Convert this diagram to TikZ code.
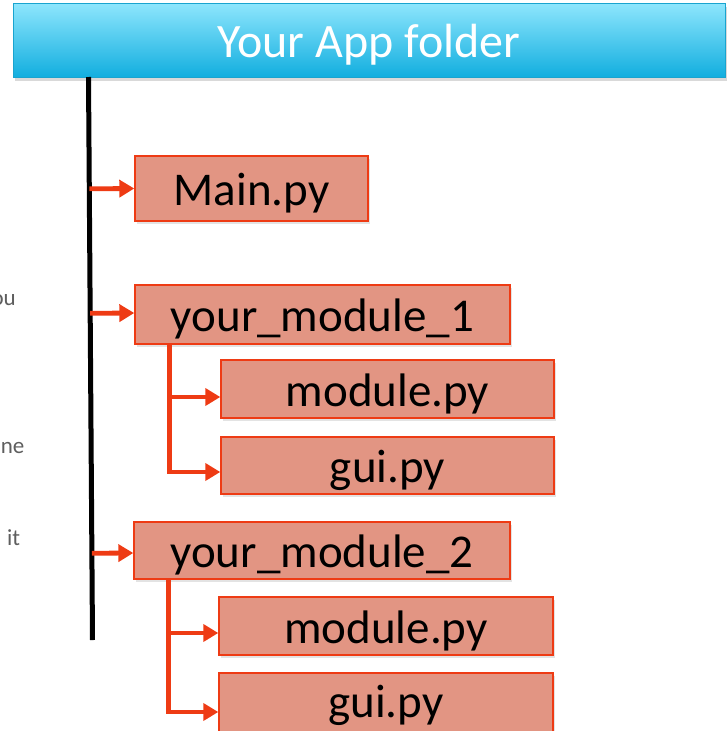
\documentclass[tikz,border=0pt]{standalone}
\usepackage{fontspec}
\setmainfont{Carlito}
\usetikzlibrary{arrows.meta,calc,shadows}
\definecolor{boxfill}{HTML}{E29583}
\definecolor{boxline}{HTML}{EE3B14}
\definecolor{headtop}{HTML}{8EE6FD}
\definecolor{headbot}{HTML}{12AEDF}
\definecolor{headline}{HTML}{19A4CF}
\definecolor{sidegray}{HTML}{5E5E5E}
\begin{document}
\begin{tikzpicture}[x=1pt,y=-1pt,
  filebox/.style={draw=boxline, line width=1.4pt, fill=boxfill, inner sep=0pt,
    font=\fontsize{47}{50}\selectfont, text height=36pt, text depth=2pt,
    drop shadow={opacity=0.22, shadow xshift=2pt, shadow yshift=-3pt}},
  header/.style={draw=headline, line width=1pt, top color=headtop, bottom color=headbot,
    inner sep=0pt, text=white, font=\fontsize{48}{50}\selectfont,
    text height=37pt, text depth=2pt,
    drop shadow={opacity=0.3, shadow xshift=2pt, shadow yshift=-4pt}},
  arr/.style={draw=boxline, line width=4.8pt, -{Triangle[length=15pt,width=17pt]}},
  sideline/.style={draw=boxline, line width=4.8pt},
  sidetext/.style={text=sidegray, font=\fontsize{23}{26}\selectfont, inner sep=0pt}
]
\useasboundingbox (0,0) rectangle (727,731);
\clip (0,0) rectangle (727,731);

% header
\node[header, minimum width=712pt, minimum height=74pt] (head) at (369,40) {Your App folder};

% spine
\coordinate (st) at (88.5,77);
\coordinate (sb) at (92.5,640);
\draw[line width=5pt, black] (st) -- (sb);

% boxes
\node[filebox, minimum width=233pt, minimum height=65pt] (main) at (251.5,188.5) {Main.py};
\node[filebox, minimum width=375pt, minimum height=59pt] (m1) at (322.5,314.5) {your\_module\_1};
\node[filebox, minimum width=333pt, minimum height=58pt] (m1mod) at (387.5,389) {module.py};
\node[filebox, minimum width=333pt, minimum height=57pt] (m1gui) at (387.5,465.5) {gui.py};
\node[filebox, minimum width=376pt, minimum height=57pt] (m2) at (322,550.5) {your\_module\_2};
\node[filebox, minimum width=334pt, minimum height=58pt] (m2mod) at (386,626) {module.py};
\node[filebox, minimum width=334pt, minimum height=62pt, text depth=10pt] (m2gui) at (386,704) {gui.py};

% arrows from spine
\foreach \n/\dy in {main/0, m1/-1.5, m2/2.5}{
  \coordinate (t\n) at ($(\n.west)+(0,\dy)$);
  \draw[arr] ($(st)!(t\n)!(sb)$) -- (t\n);
}

% sub-trees
\coordinate (c1) at ($(m1.south west)+(35.5,0)$);
\coordinate (g1) at ($(m1gui.west)+(0,6.5)$);
\coordinate (d1) at ($(m1mod.west)+(0,8)$);
\draw[sideline] (c1) -- (c1 |- g1);
\draw[arr] ($(c1 |- g1)+(-2.4,0)$) -- (g1);
\draw[arr] (c1 |- d1) -- (d1);

\coordinate (c2) at ($(m2.south west)+(35.5,0)$);
\coordinate (g2) at ($(m2gui.west)+(0,8)$);
\coordinate (d2) at ($(m2mod.west)+(0,7)$);
\draw[sideline] (c2) -- (c2 |- g2);
\draw[arr] ($(c2 |- g2)+(-2.4,0)$) -- (g2);
\draw[arr] (c2 |- d2) -- (d2);

% cut-off side text
\node[sidetext, anchor=base east] (s1) at (16,305) {ou};
\node[sidetext, anchor=base east] (s2) at (24.5,453) {ne};
\node[sidetext, anchor=base west] (s3) at (7,545) {it};
\end{tikzpicture}
\end{document}
